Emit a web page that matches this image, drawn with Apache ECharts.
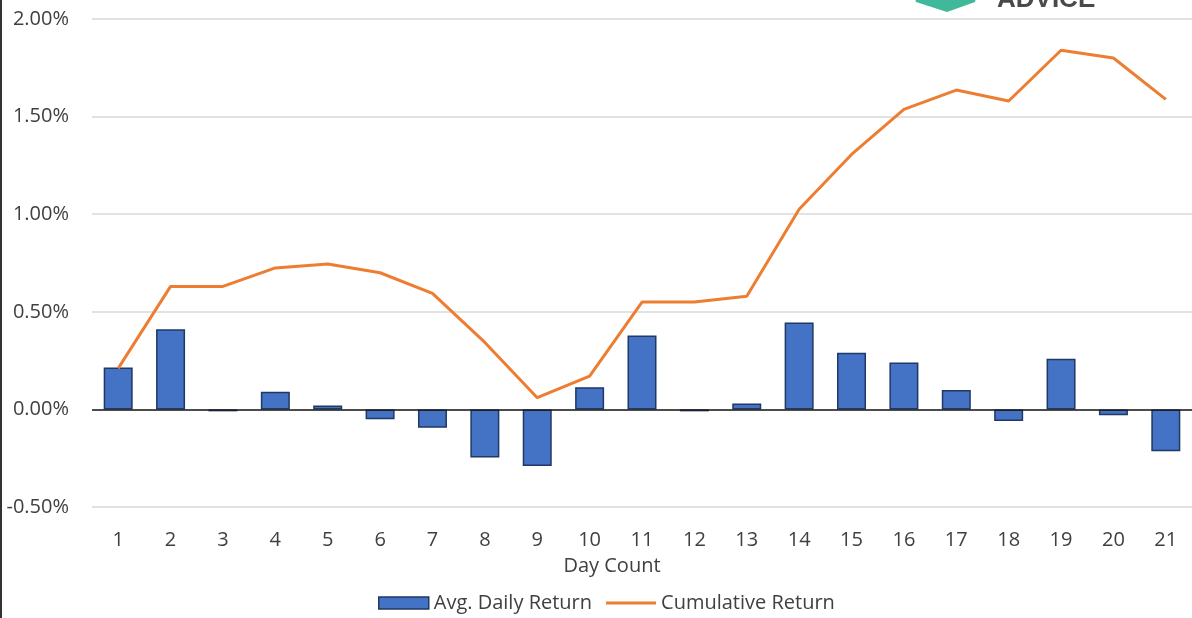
<!DOCTYPE html>
<html>
<head>
<meta charset="utf-8">
<script src="https://cdn.jsdelivr.net/npm/echarts@6/dist/echarts.min.js"></script>
<style>
html,body{margin:0;padding:0;background:#fff;}
#c{width:1192px;height:618px;}
</style>
</head>
<body>
<div id="c"></div>
<script>
const days = ['1','2','3','4','5','6','7','8','9','10','11','12','13','14','15','16','17','18','19','20','21'];
const avgDailyReturn = [0.215,0.41,-0.01,0.09,0.02,-0.05,-0.094,-0.247,-0.29,0.114,0.379,-0.01,0.03,0.445,0.29,0.24,0.10,-0.06,0.26,-0.03,-0.215];
const cumulativeReturn = [0.21,0.63,0.63,0.725,0.745,0.70,0.594,0.343,0.06,0.17,0.55,0.55,0.58,1.025,1.306,1.537,1.636,1.58,1.84,1.80,1.588];
const yTicks = {min:-0.5, max:2.0, interval:0.5};

const FONT = 'Open Sans';
const FS = 20;
const TXT = '#404040';
const chart = echarts.init(document.getElementById('c'), null, {renderer:'canvas'});
chart.setOption({
  animation:false,
  backgroundColor:'#fff',
  textStyle:{fontFamily:FONT},
  grid:{left:92, right:-2, top:19, bottom:111, containLabel:false},
  legend:{
    left:373, top:588,
    itemWidth:50, itemHeight:12, itemGap:14,
    textStyle:{fontFamily:FONT, fontSize:FS, color:TXT},
    data:[
      {name:'Avg. Daily Return', icon:'rect', itemStyle:{borderColor:'#1f3864', borderWidth:1.5}},
      {name:'Cumulative Return', icon:'path://M0,0H50V3H0Z', itemStyle:{color:'#ed7d31', borderWidth:0}}
    ]
  },
  xAxis:{
    type:'category', data:days,
    axisLine:{show:false, onZero:false},
    axisTick:{show:false},
    axisLabel:{color:TXT, fontSize:FS, fontFamily:FONT, margin:23}
  },
  yAxis:{
    type:'value', min:yTicks.min, max:yTicks.max, interval:yTicks.interval,
    axisLine:{show:false}, axisTick:{show:false},
    splitLine:{lineStyle:{color:'#d9d9d9', width:1.5}},
    axisLabel:{color:TXT, fontSize:FS, fontFamily:FONT, margin:23,
      formatter:v=>v.toFixed(2)+'%'}
  },
  series:[
    {
      name:'Avg. Daily Return', type:'bar', data:avgDailyReturn, barWidth:29,
      itemStyle:{color:'#4472c4', borderColor:'#1f3864', borderWidth:1.5},
      markLine:{silent:true, symbol:'none', label:{show:false},
        lineStyle:{color:'#1a1a1a', width:1.5, type:'solid'},
        data:[{yAxis:0}]},
      z:2
    },
    {
      name:'Cumulative Return', type:'line', data:cumulativeReturn,
      symbol:'none', lineStyle:{color:'#ed7d31', width:3}, itemStyle:{color:'#ed7d31'},
      z:3
    }
  ],
  graphic:[
    {type:'rect', left:0, top:0, shape:{width:2, height:618}, style:{fill:'#333'}, silent:true},
    {type:'text', x:612, y:566, style:{text:'Day Count', fontFamily:FONT, fontSize:FS, fill:TXT, align:'center', verticalAlign:'middle'}},
    {type:'text', x:997, y:13, style:{text:'ADVICE', fontFamily:'Liberation Sans', fontWeight:'bold', fontSize:26, fill:'#4a4a4a', align:'left', verticalAlign:'bottom'}},
    {type:'polygon', shape:{points:[[913,-10],[978,-10],[975,2],[947,12],[916,2]]}, style:{fill:'#3fb99a'}, silent:true}
  ]
});
</script>
</body>
</html>
